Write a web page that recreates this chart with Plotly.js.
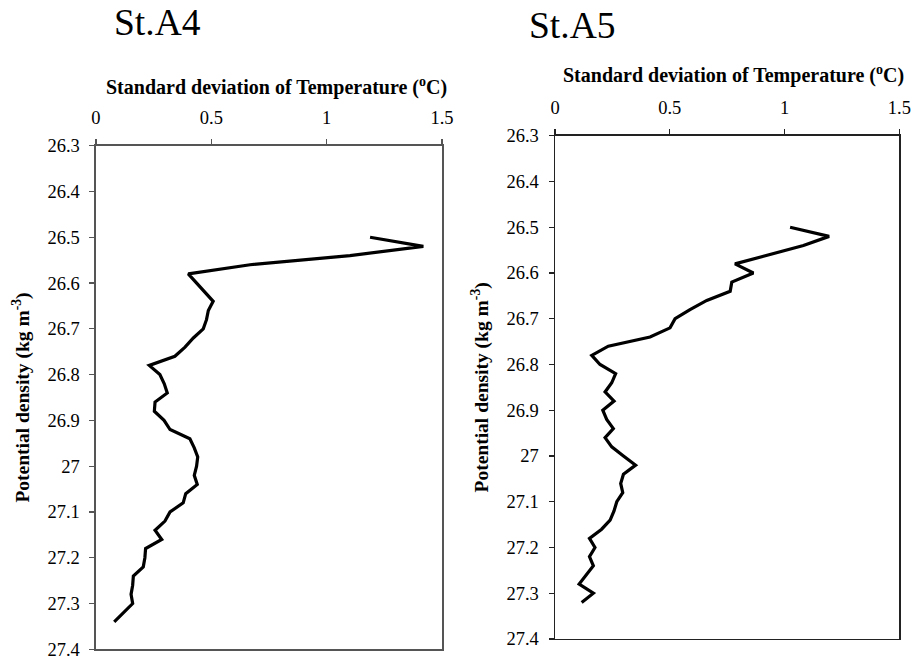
<!DOCTYPE html>
<html>
<head>
<meta charset="utf-8">
<script src="https://cdn.plot.ly/plotly-3.0.1.min.js"></script>
<style>html,body{margin:0;padding:0;background:#fff;}#chart{width:915px;height:665px;}</style>
</head>
<body>
<div id="chart"></div>
<script>
// St.A4 profile
const densityA4 = [26.50,26.52,26.54,26.56,26.58,26.60,26.62,26.64,26.66,26.68,26.70,26.72,26.74,26.76,26.78,26.80,26.82,26.84,26.86,26.88,26.90,26.92,26.94,26.96,26.98,27.00,27.02,27.04,27.06,27.08,27.10,27.12,27.14,27.16,27.18,27.20,27.22,27.24,27.26,27.28,27.30,27.32,27.34];
const stdTempA4 = [1.188,1.419,1.101,0.668,0.400,0.436,0.474,0.508,0.487,0.479,0.465,0.422,0.386,0.342,0.231,0.277,0.296,0.309,0.256,0.253,0.295,0.321,0.407,0.426,0.441,0.436,0.426,0.439,0.389,0.378,0.321,0.299,0.256,0.285,0.215,0.212,0.205,0.162,0.159,0.152,0.159,0.118,0.079];
// St.A5 profile
const densityA5 = [26.50,26.52,26.54,26.56,26.58,26.60,26.62,26.64,26.66,26.68,26.70,26.72,26.74,26.76,26.78,26.80,26.82,26.84,26.86,26.88,26.90,26.92,26.94,26.96,26.98,27.00,27.02,27.04,27.06,27.08,27.10,27.12,27.14,27.16,27.18,27.20,27.22,27.24,27.26,27.28,27.30,27.32];
const stdTempA5 = [1.024,1.194,1.082,0.937,0.784,0.864,0.770,0.763,0.661,0.588,0.523,0.501,0.414,0.232,0.160,0.196,0.264,0.247,0.218,0.257,0.208,0.225,0.254,0.218,0.247,0.298,0.351,0.298,0.286,0.295,0.269,0.257,0.240,0.203,0.150,0.174,0.150,0.167,0.135,0.105,0.167,0.116];
// Tick labels
const xTickVals = [0,0.5,1,1.5];
const xTickText = ['0','0.5','1','1.5'];
const yTickVals = [26.3,26.4,26.5,26.6,26.7,26.8,26.9,27.0,27.1,27.2,27.3,27.4];
const yTickText = ['26.3','26.4','26.5','26.6','26.7','26.8','26.9','27','27.1','27.2','27.3','27.4'];
const stationTitles = ['St.A4','St.A5'];
const xTitle = 'Standard deviation of Temperature (<sup>o</sup>C)';
const yTitle = 'Potential density (kg m<sup>-3</sup>)';

const serif = 'Liberation Serif, Times New Roman, serif';
const lineStyle = {color:'#000', width:3.2};

const traces = [
  {x: stdTempA4, y: densityA4, type:'scatter', mode:'lines', line:lineStyle, xaxis:'x', yaxis:'y', hoverinfo:'skip'},
  {x: stdTempA5, y: densityA5, type:'scatter', mode:'lines', line:lineStyle, xaxis:'x2', yaxis:'y2', hoverinfo:'skip'}
];

function xAxis(domain, anchor, color){
  return {domain: domain, anchor: anchor, side:'top', range:[0,1.5], tickvals:xTickVals, ticktext:xTickText,
    ticks:'outside', ticklen:5, tickcolor:color, tickwidth:1.3, showline:true, linecolor:color, linewidth:1.5, mirror:true,
    showgrid:false, zeroline:false, tickfont:{family:serif, size:18.5, color:'#000'}, ticklabelstandoff:8};
}
function yAxis(domain, anchor, color){
  return {domain: domain, anchor: anchor, range:[27.4,26.3], tickvals:yTickVals, ticktext:yTickText,
    ticks:'outside', ticklen:5, tickcolor:color, tickwidth:1.3, showline:true, linecolor:color, linewidth:1.5, mirror:true,
    showgrid:false, zeroline:false, tickfont:{family:serif, size:18.5, color:'#000'}, ticklabelstandoff:6,
    title:{text:yTitle, font:{family:serif, size:19.5, color:'#000', weight:'bold'}, standoff:12}};
}

const titleFont = {family:serif, size:20, color:'#000', weight:'bold'};
const layout = {
  width:915, height:665, margin:{l:0,r:0,t:0,b:0}, paper_bgcolor:'#fff', plot_bgcolor:'#fff', showlegend:false,
  xaxis: xAxis([0.1049,0.4831],'y','#555'),
  yaxis: yAxis([0.0236,0.7809],'x','#555'),
  xaxis2: xAxis([0.6066,0.9829],'y2','#222'),
  yaxis2: yAxis([0.0391,0.7959],'x2','#222'),
  annotations: [
    {text:stationTitles[0], xref:'paper', yref:'paper', x:157/915, y:1-22.5/665, xanchor:'center', yanchor:'middle', showarrow:false, font:{family:serif, size:37.5, color:'#000'}},
    {text:stationTitles[1], xref:'paper', yref:'paper', x:572/915, y:1-25/665, xanchor:'center', yanchor:'middle', showarrow:false, font:{family:serif, size:37.5, color:'#000'}},
    {text:xTitle, xref:'paper', yref:'paper', x:276/915, y:1-86/665, xanchor:'center', yanchor:'middle', showarrow:false, font:titleFont},
    {text:xTitle, xref:'paper', yref:'paper', x:733/915, y:1-75/665, xanchor:'center', yanchor:'middle', showarrow:false, font:titleFont}
  ]
};

Plotly.newPlot('chart', traces, layout, {staticPlot:true, displayModeBar:false});
</script>
</body>
</html>
